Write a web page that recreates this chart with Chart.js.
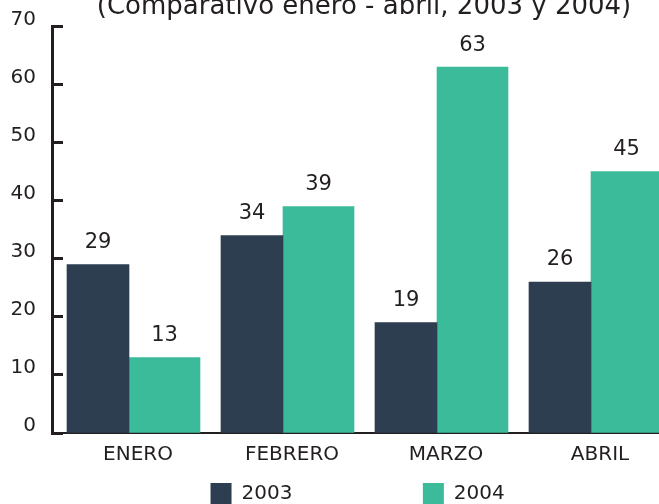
<!DOCTYPE html>
<html>
<head>
<meta charset="utf-8">
<script src="https://cdn.jsdelivr.net/npm/chart.js@4.4.1/dist/chart.umd.min.js"></script>
<style>
  html, body { margin: 0; padding: 0; background: #ffffff; width: 659px; height: 504px; overflow: hidden; }
  #wrap { position: absolute; left: 0; top: -20px; width: 728px; height: 534px; }
</style>
</head>
<body>
<div id="wrap"><canvas id="c" width="728" height="534"></canvas></div>
<script>
const categories = ['ENERO', 'FEBRERO', 'MARZO', 'ABRIL'];
const seriesNames = ['2003', '2004'];
const values2003 = [29, 34, 19, 26];
const values2004 = [13, 39, 63, 45];
const yTicks = [0, 10, 20, 30, 40, 50, 60, 70];
const titleText = '(Comparativo enero - abril, 2003 y 2004)';

const DARK = '#2c3e50';
const TEAL = '#3cbb9b';
const INK = '#231f20';
const FONT = "'DejaVu Sans', Verdana, sans-serif";

const valueLabels = {
  id: 'valueLabels',
  afterDatasetsDraw(chart) {
    const ctx = chart.ctx;
    ctx.save();
    ctx.font = '21px ' + FONT;
    ctx.fillStyle = INK;
    ctx.textAlign = 'center';
    ctx.textBaseline = 'middle';
    chart.data.datasets.forEach((ds, di) => {
      const meta = chart.getDatasetMeta(di);
      meta.data.forEach((el, i) => {
        ctx.fillText(String(ds.data[i]), el.x, el.y - 22);
      });
    });
    ctx.restore();
  }
};

new Chart(document.getElementById('c'), {
  type: 'bar',
  data: {
    labels: categories,
    datasets: [
      { label: seriesNames[0], data: values2003, backgroundColor: DARK, barThickness: 62 },
      { label: seriesNames[1], data: values2004, backgroundColor: TEAL, barThickness: 71 }
    ]
  },
  options: {
    responsive: false,
    animation: false,
    layout: { autoPadding: false, padding: 0 },
    plugins: {
      title: {
        display: true,
        text: titleText,
        color: INK,
        font: { family: FONT, size: 26, weight: 'normal' },
        padding: { top: 11.4, bottom: 3.8 }
      },
      legend: {
        position: 'bottom',
        labels: {
          boxWidth: 21,
          boxHeight: 21,
          padding: 16,
          color: INK,
          font: { family: FONT, size: 20 },
          generateLabels(chart) {
            const items = Chart.defaults.plugins.legend.labels.generateLabels(chart);
            items.forEach((it, i) => {
              it.text = it.text + ' '.repeat(i === 0 ? 18 : 2);
              it.lineWidth = 0;
            });
            return items;
          }
        }
      },
      tooltip: { enabled: false }
    },
    scales: {
      x: {
        type: 'category',
        grid: { display: false, drawTicks: false },
        border: { display: true, color: INK, width: 2 },
        ticks: {
          color: INK,
          font: { family: FONT, size: 20 },
          padding: 10,
          labelOffset: 9,
          maxRotation: 0,
          autoSkip: false
        },
        afterFit(s) { s.height = 34; }
      },
      y: {
        position: 'left',
        min: 0,
        max: 70,
        afterBuildTicks(s) { s.ticks = yTicks.map(v => ({ value: v })); },
        grid: {
          drawOnChartArea: false,
          drawTicks: true,
          tickLength: -11,
          tickWidth: 3,
          tickColor: INK
        },
        border: { display: true, color: INK, width: 3 },
        ticks: {
          color: INK,
          font: { family: FONT, size: 20 },
          padding: 27,
          labelOffset: -7
        },
        afterFit(s) { s.width = 52; }
      },
      yR: {
        position: 'right',
        display: true,
        grid: { display: false, drawTicks: false },
        border: { display: false },
        ticks: { display: false },
        afterFit(s) { s.width = 60; }
      }
    }
  },
  plugins: [valueLabels]
});
</script>
</body>
</html>
